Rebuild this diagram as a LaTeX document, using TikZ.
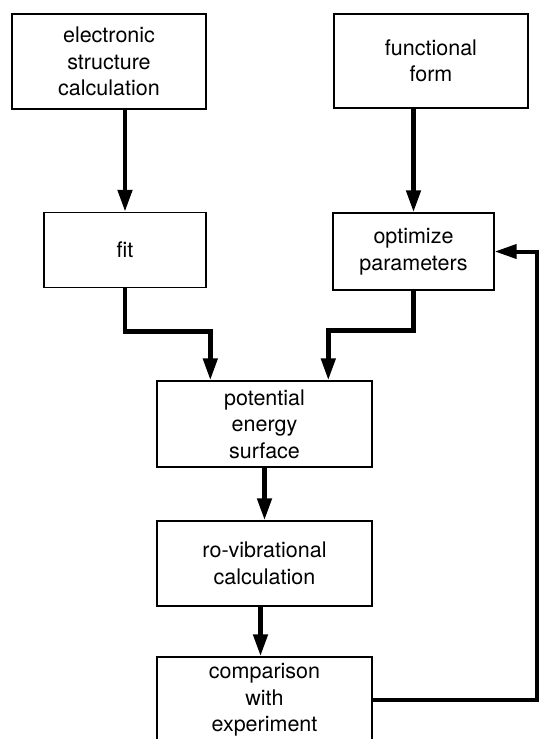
\documentclass[tikz,border=0pt]{standalone}
\usepackage{fontspec}
\setmainfont{TeX Gyre Heros}
\usetikzlibrary{arrows.meta,calc}
\begin{document}
\begin{tikzpicture}[x=1pt,y=-1pt,
  box/.style={draw, line width=1.4pt, rectangle, align=center, inner sep=0pt,
    font=\fontsize{21.5}{26.5}\selectfont},
  arr/.style={line width=4.6pt, -{Triangle[width=14pt,length=22pt]}}]
\clip (0,0) rectangle (539,739);
\node[box, minimum width=194pt, minimum height=95pt] (esc) at (109,61.5) {electronic\\structure\\calculation};
\node[box, minimum width=194pt, minimum height=94pt] (ff) at (431,61) {functional\\form};
\node[box, minimum width=162pt, minimum height=75pt] (fit) at (125,250) {fit};
\node[box, minimum width=161pt, minimum height=77pt] (opt) at (413.5,251.5) {optimize\\parameters};
\node[box, minimum width=215pt, minimum height=86pt] (pes) at (264.5,424) {potential\\energy\\surface};
\node[box, minimum width=215pt, minimum height=85pt] (rov) at (264.5,563.5) {ro-vibrational\\calculation};
\node[box, minimum width=215pt, minimum height=86pt] (cmp) at (264.5,700) {comparison\\with\\experiment};
\coordinate (pesinL) at ($(pes.north west)+(54,0)$);
\coordinate (pesinR) at ($(pes.north west)+(172,0)$);
\coordinate (fb) at (536.5,0);
\draw[arr] (fit.north |- esc.south) -- (fit.north);
\draw[arr] (opt.north |- ff.south) -- (opt.north);
\draw[arr] (fit.south) -- ++(0,43) -| (pesinL);
\draw[arr] (opt.south) -- ++(0,40) -| (pesinR);
\draw[arr] (pes.south) -- (rov.north);
\draw[arr] ($(rov.south)+(-4,0)$) -- ($(cmp.north)+(-4,0)$);
\draw[arr, line width=4pt] (cmp.east) -- (cmp.east -| fb) -- (opt.east -| fb) -- (opt.east);
\end{tikzpicture}
\end{document}
